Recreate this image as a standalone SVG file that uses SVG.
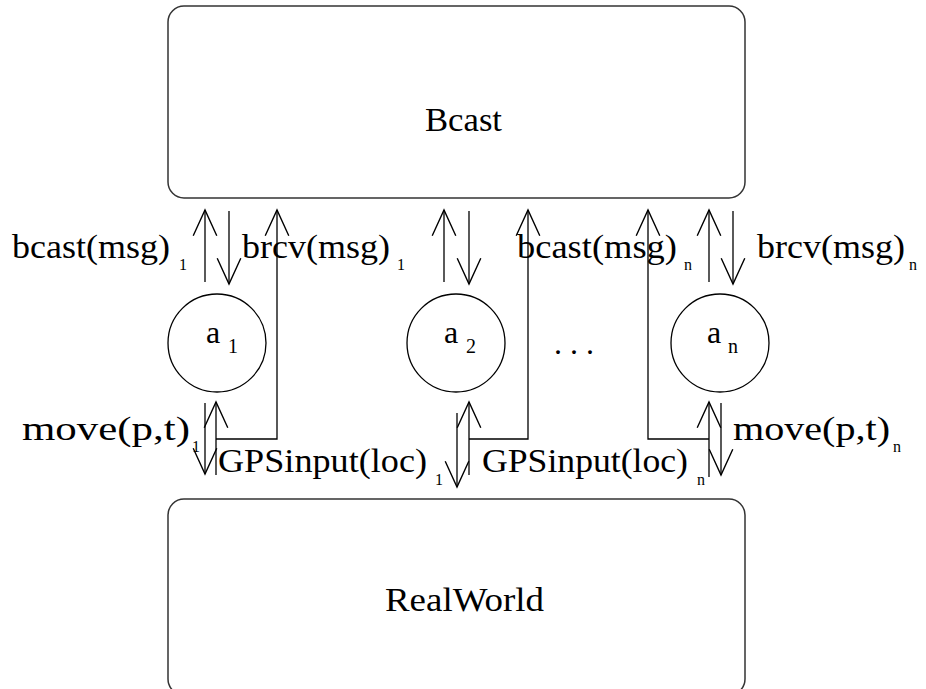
<svg xmlns="http://www.w3.org/2000/svg" width="926" height="689" viewBox="0 0 926 689">
<style>
.box{fill:none;stroke:#333;stroke-width:1.5}
.node{fill:none;stroke:#000;stroke-width:1.3}
.ln{fill:none;stroke:#000;stroke-width:1.3}
.arr{marker-end:url(#v)}
text{font-family:"Liberation Serif","Times New Roman",serif;fill:#000}
.big{font-size:32px}
.title{font-size:34px}
.lbl{font-size:34px}
.sub{font-size:16px}
.asub{font-size:20px}
</style>
<defs>
<marker id="v" markerUnits="userSpaceOnUse" markerWidth="30" markerHeight="30" viewBox="-26 -13 28 26" refX="0" refY="0" orient="auto">
<path d="M-24,-11 L0,0 L-24,11" fill="none" stroke="#000" stroke-width="1.3"/>
</marker>
</defs>
<g id="bcast">
<rect class="box" x="168" y="6" width="577" height="192" rx="16"/>
<text class="title" x="425" y="131" textLength="77" lengthAdjust="spacingAndGlyphs">Bcast</text>
</g>
<g id="realworld">
<rect class="box" x="168" y="499" width="577" height="196" rx="16"/>
<text class="title" x="385" y="611" textLength="159" lengthAdjust="spacingAndGlyphs">RealWorld</text>
</g>
<g id="a1">
<circle class="node" cx="217" cy="343" r="49"/>
<text class="big" x="206" y="343">a</text>
<text class="asub" x="228" y="353">1</text>
</g>
<g id="a2">
<circle class="node" cx="456" cy="343" r="49"/>
<text class="big" x="444" y="343">a</text>
<text class="asub" x="466" y="353">2</text>
</g>
<g id="an">
<circle class="node" cx="720" cy="343" r="49"/>
<text class="big" x="707" y="343">a</text>
<text class="asub" x="728" y="353">n</text>
</g>
<g id="dots">
<text class="big" x="554" y="354">. . .</text>
</g>
<g id="connectors">
<path class="ln arr" d="M205,282 L205,210"/>
<path class="ln arr" d="M229,211 L229,284"/>
<path class="ln arr" d="M216,439 L277,439 L277,210"/>
<path class="ln arr" d="M216,475 L216,402"/>
<path class="ln arr" d="M205,403 L205,474"/>
<path class="ln arr" d="M444,282 L444,210"/>
<path class="ln arr" d="M469,211 L469,284"/>
<path class="ln arr" d="M469,439 L528,439 L528,210"/>
<path class="ln arr" d="M469,475 L469,402"/>
<path class="ln arr" d="M457,413 L457,487"/>
<path class="ln arr" d="M709,282 L709,210"/>
<path class="ln arr" d="M733,211 L733,284"/>
<path class="ln arr" d="M709,439 L648,439 L648,210"/>
<path class="ln arr" d="M709,477 L709,402"/>
<path class="ln arr" d="M721,403 L721,475"/>
</g>
<g id="labels">
<text class="lbl" x="12" y="258" textLength="158" lengthAdjust="spacingAndGlyphs">bcast(msg)</text>
<text class="sub" x="179" y="270">1</text>
<text class="lbl" x="242" y="258" textLength="148" lengthAdjust="spacingAndGlyphs">brcv(msg)</text>
<text class="sub" x="397" y="270">1</text>
<text class="lbl" x="517" y="258" textLength="160" lengthAdjust="spacingAndGlyphs">bcast(msg)</text>
<text class="sub" x="684" y="270">n</text>
<text class="lbl" x="757" y="258" textLength="148" lengthAdjust="spacingAndGlyphs">brcv(msg)</text>
<text class="sub" x="909" y="270">n</text>
<text class="lbl" x="22" y="440" textLength="168" lengthAdjust="spacingAndGlyphs">move(p,t)</text>
<text class="sub" x="192" y="452">1</text>
<text class="lbl" x="733" y="440" textLength="157" lengthAdjust="spacingAndGlyphs">move(p,t)</text>
<text class="sub" x="893" y="452">n</text>
<text class="lbl" x="218" y="472" textLength="209" lengthAdjust="spacingAndGlyphs">GPSinput(loc)</text>
<text class="sub" x="435" y="485">1</text>
<text class="lbl" x="482" y="472" textLength="206" lengthAdjust="spacingAndGlyphs">GPSinput(loc)</text>
<text class="sub" x="697" y="485">n</text>
</g>
</svg>
